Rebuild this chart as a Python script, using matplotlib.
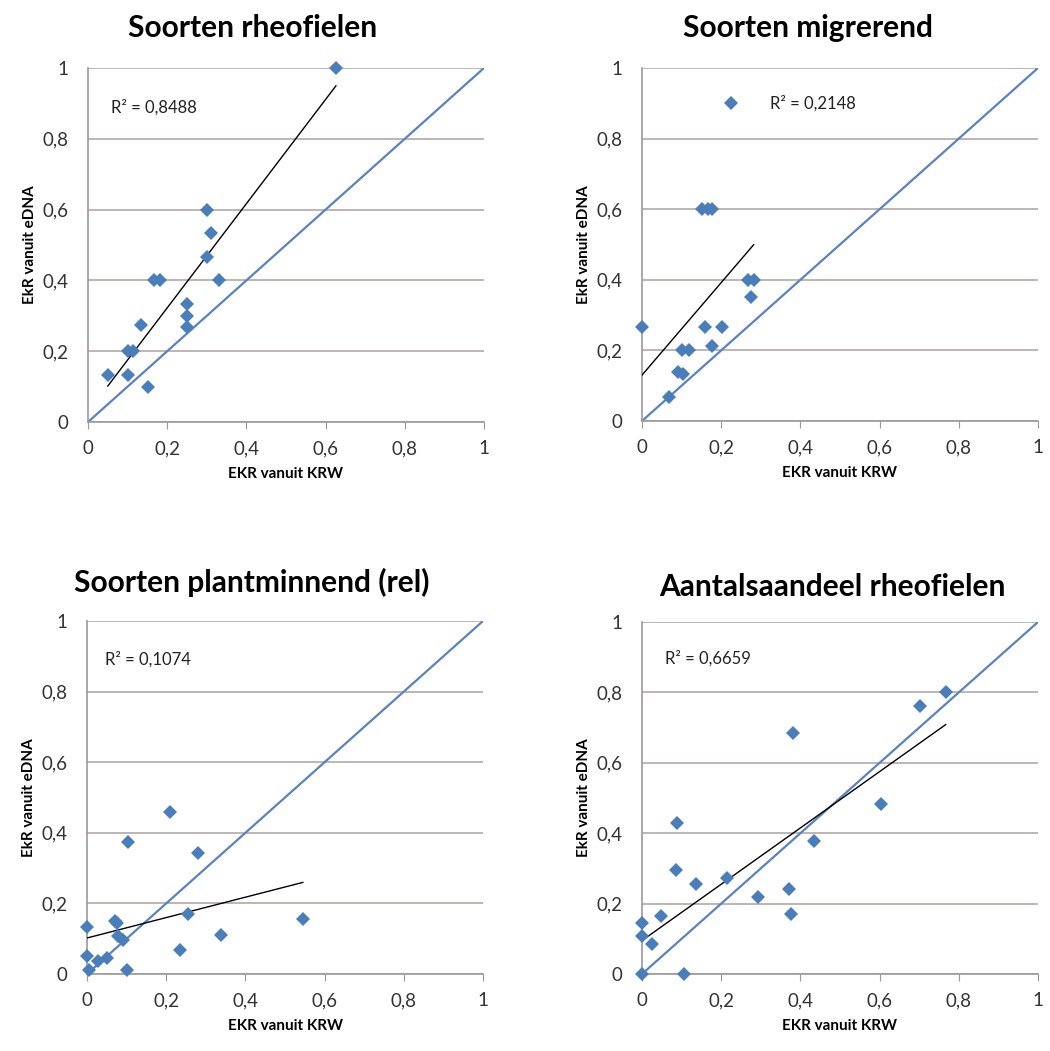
import numpy as np
import matplotlib
matplotlib.use("Agg")
import matplotlib.pyplot as plt

plt.rcParams['font.family'] = ['Lato', 'DejaVu Sans']

# Soorten rheofielen
rheo_x = [0.626, 0.30, 0.31, 0.30, 0.332, 0.167, 0.182, 0.251, 0.251, 0.25, 0.134, 0.10, 0.113, 0.05, 0.10, 0.151]
rheo_y = [1.0, 0.60, 0.533, 0.467, 0.40, 0.40, 0.40, 0.333, 0.30, 0.267, 0.273, 0.20, 0.20, 0.133, 0.133, 0.10]
rheo_trend = (1.472, 0.028)  # helling, snijpunt
rheo_r2 = "R² = 0,8488"

# Soorten migrerend
migr_x = [0.225, 0.151, 0.166, 0.176, 0.267, 0.282, 0.276, 0.0, 0.160, 0.202, 0.176, 0.101, 0.118, 0.092, 0.103, 0.067]
migr_y = [0.90, 0.60, 0.60, 0.60, 0.40, 0.40, 0.35, 0.267, 0.267, 0.267, 0.213, 0.20, 0.20, 0.14, 0.133, 0.067]
migr_trend = (1.31, 0.13)
migr_r2 = "R² = 0,2148"

# Soorten plantminnend (rel)
plant_x = [0.209, 0.104, 0.28, 0.545, 0.255, 0.339, 0.234, 0.0, 0.07, 0.076, 0.078, 0.091, 0.0, 0.028, 0.05, 0.005, 0.10]
plant_y = [0.46, 0.375, 0.342, 0.157, 0.171, 0.111, 0.067, 0.133, 0.149, 0.144, 0.107, 0.097, 0.052, 0.036, 0.045, 0.012, 0.012]
plant_trend = (0.289, 0.102)
plant_r2 = "R² = 0,1074"

# Aantalsaandeel rheofielen
aant_x = [0.767, 0.702, 0.381, 0.603, 0.088, 0.435, 0.087, 0.136, 0.214, 0.294, 0.372, 0.376, 0.049, 0.0, 0.0, 0.025, 0.0, 0.105]
aant_y = [0.80, 0.762, 0.686, 0.482, 0.428, 0.379, 0.296, 0.256, 0.272, 0.22, 0.241, 0.17, 0.164, 0.145, 0.107, 0.086, 0.0, 0.0]
aant_trend = (0.80, 0.095)
aant_r2 = "R² = 0,6659"

ticks = [0, 0.2, 0.4, 0.6, 0.8, 1]
tick_labels = ["0", "0,2", "0,4", "0,6", "0,8", "1"]

panels = [
    ("Soorten rheofielen", rheo_x, rheo_y, rheo_trend, rheo_r2, (0.059, 0.888),
     [88 / 1050, 1 - 422 / 1051, 396 / 1050, 354 / 1051], (253 / 1050, 1 - 28 / 1051)),
    ("Soorten migrerend", migr_x, migr_y, migr_trend, migr_r2, (0.324, 0.90),
     [642 / 1050, 1 - 421 / 1051, 396 / 1050, 353 / 1051], (808 / 1050, 1 - 28 / 1051)),
    ("Soorten plantminnend (rel)", plant_x, plant_y, plant_trend, plant_r2, (0.045, 0.89),
     [87 / 1050, 1 - 974 / 1051, 396 / 1050, 353 / 1051], (252 / 1050, 1 - 582 / 1051)),
    ("Aantalsaandeel rheofielen", aant_x, aant_y, aant_trend, aant_r2, (0.059, 0.896),
     [642 / 1050, 1 - 974 / 1051, 396 / 1050, 352 / 1051], (832 / 1050, 1 - 587 / 1051)),
]

fig = plt.figure(figsize=(10.5, 10.51), dpi=100)

for title, xs, ys, trend, r2, r2_pos, rect, title_pos in panels:
    ax = fig.add_axes(rect)
    ax.set_xlim(0, 1)
    ax.set_ylim(0, 1)
    ax.grid(axis="y", color="#b3a8a8", linewidth=1.2)
    ax.set_axisbelow(True)

    # 1:1 lijn
    ax.plot([0, 1], [0, 1], color="#5b82c0", linewidth=1.6, zorder=2)

    # trendlijn
    tx = np.array([min(xs), max(xs)])
    ax.plot(tx, trend[0] * tx + trend[1], color="black", linewidth=1.0, zorder=3)

    ax.plot(xs, ys, linestyle="none", marker="D", markersize=7.5,
            color="#4a7ebb", markeredgewidth=0, zorder=4, clip_on=False)

    ax.text(r2_pos[0], r2_pos[1], r2, transform=ax.transAxes, fontsize=12,
            va="center", ha="left", color="#222222")

    ax.set_xticks(ticks)
    ax.set_xticklabels(tick_labels, fontsize=13.5, color="#333333")
    ax.set_yticks(ticks)
    ax.set_yticklabels(tick_labels, fontsize=13.5, color="#333333")
    ax.tick_params(axis="x", direction="out", length=5, color="#999999", pad=8)
    ax.tick_params(axis="y", length=0, pad=14)

    for side in ["top", "right"]:
        ax.spines[side].set_visible(False)
    for side in ["left", "bottom"]:
        ax.spines[side].set_color("#999999")
        ax.spines[side].set_linewidth(1.2)

    ax.set_xlabel("EKR vanuit KRW", fontsize=11, fontweight="bold", labelpad=7)
    ax.set_ylabel("EkR vanuit eDNA", fontsize=11, fontweight="bold", labelpad=4)

    fig.text(title_pos[0], title_pos[1], title, fontsize=21.5, fontweight="bold",
             ha="center", va="center")

fig.savefig("out.png", dpi=100, facecolor="white")
